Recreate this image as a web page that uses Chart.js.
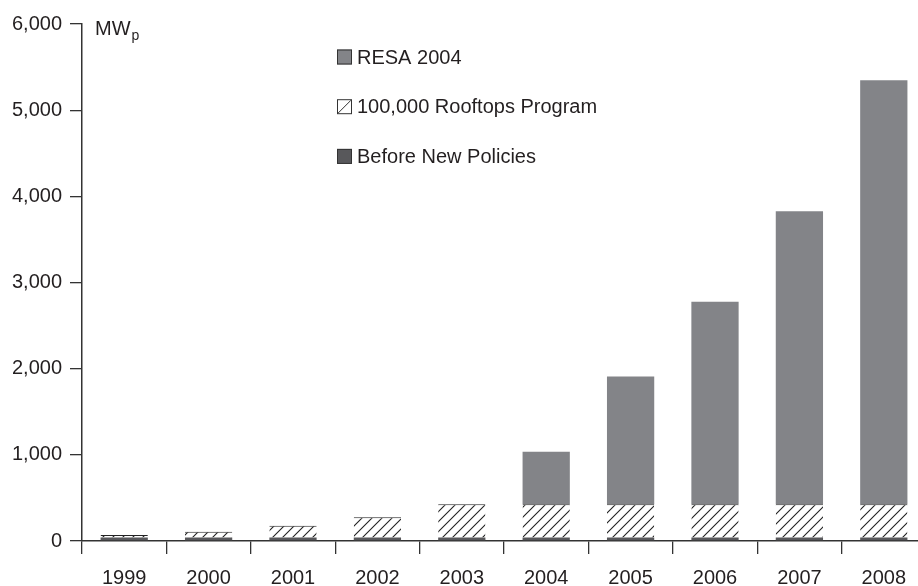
<!DOCTYPE html>
<html lang="en">
<head>
<meta charset="UTF-8">
<title>MWp</title>
<style>
  html, body { margin: 0; padding: 0; background: #fff; overflow: hidden; }
  #wrap { width: 926px; height: 586px; }
</style>
</head>
<body>
<div id="wrap">
  <canvas id="myChart" width="926" height="586"></canvas>
</div>

<script src="https://cdn.jsdelivr.net/npm/chart.js@4.4.1/dist/chart.umd.min.js"></script>
<script>
    // data (MWp)
    const years = ['1999', '2000', '2001', '2002', '2003', '2004', '2005', '2006', '2007', '2008'];
    const beforeNewPolicies = [40, 40, 40, 40, 40, 40, 40, 40, 40, 40];
    const rooftopsProgram = [30, 68, 138, 235, 386, 386, 386, 386, 386, 386];
    const resa2004 = [0, 0, 0, 0, 0, 610, 1484, 2350, 3402, 4922];
    const yTicks = [0, 1000, 2000, 3000, 4000, 5000, 6000];

    const FONT = '"Liberation Sans", Arial, Helvetica, sans-serif';
    const TEXT = '#231f20';

    // diagonal hatch for the rooftops program
    function hatch() {
        const c = document.createElement('canvas');
        c.width = 10; c.height = 10;
        const g = c.getContext('2d');
        g.fillStyle = '#fff';
        g.fillRect(0, 0, 10, 10);
        g.strokeStyle = '#222';
        g.lineWidth = 1.1;
        g.beginPath();
        g.moveTo(-1, 11); g.lineTo(11, -1);
        g.moveTo(-6, 6); g.lineTo(6, -6);
        g.moveTo(4, 16); g.lineTo(16, 4);
        g.stroke();
        return g.createPattern(c, 'repeat');
    }
    const hatchFill = hatch();

    // MW_p unit label and the legend block placed inside the plot
    const overlay = {
        id: 'overlay',
        afterDraw(chart) {
            const ctx = chart.ctx;
            ctx.save();
            ctx.fillStyle = TEXT;
            ctx.textBaseline = 'alphabetic';
            ctx.font = '20px ' + FONT;
            ctx.fillText('MW', 95, 35);
            const w = ctx.measureText('MW').width;
            ctx.font = '14px ' + FONT;
            ctx.fillText('p', 95 + w + 1, 40);

            const items = [2, 1, 0];
            items.forEach((di, i) => {
                const ds = chart.data.datasets[di];
                const y = 57 + i * 49.7;
                ctx.fillStyle = ds.legendFill;
                ctx.fillRect(337, y - 7.5, 15, 15);
                ctx.strokeStyle = '#333';
                ctx.lineWidth = 1;
                ctx.strokeRect(337.5, y - 7, 14, 14);
                if (ds.legendSlash) {
                    ctx.beginPath();
                    ctx.moveTo(338, y + 6.5);
                    ctx.lineTo(351, y - 6.5);
                    ctx.stroke();
                }
                ctx.fillStyle = TEXT;
                ctx.font = '20px ' + FONT;
                ctx.textBaseline = 'middle';
                ctx.fillText(ds.label, 357, y + 1);
            });
            ctx.restore();
        }
    };

    const ctx = document.getElementById('myChart').getContext('2d');

    const chart = new Chart(ctx, {
        type: 'bar',
        data: {
            labels: years,
            datasets: [{
                label: 'Before New Policies',
                data: beforeNewPolicies,
                backgroundColor: '#58585b',
                legendFill: '#58585b'
            }, {
                label: '100,000 Rooftops Program',
                data: rooftopsProgram,
                backgroundColor: hatchFill,
                borderColor: '#222',
                borderWidth: { top: 1, left: 0, right: 0, bottom: 0 },
                borderSkipped: 'bottom',
                legendFill: '#fff',
                legendSlash: true
            }, {
                label: 'RESA 2004',
                data: resa2004,
                backgroundColor: '#838488',
                legendFill: '#838488'
            }]
        },
        options: {
            responsive: false,
            animation: false,
            layout: { padding: { top: 24, right: 0, left: 0, bottom: 0 } },
            datasets: {
                bar: { barPercentage: 0.56, categoryPercentage: 1 }
            },
            plugins: {
                legend: { display: false },
                tooltip: { enabled: false }
            },
            scales: {
                x: {
                    stacked: true,
                    offset: true,
                    grid: { drawOnChartArea: false, drawTicks: true, tickLength: 13, offset: true, color: '#333', lineWidth: 1.3 },
                    border: { display: true, color: '#333', width: 1.5 },
                    ticks: { color: TEXT, font: { family: FONT, size: 20 }, padding: 12, maxRotation: 0 },
                    afterFit(s) { s.height = 45; }
                },
                y: {
                    stacked: true,
                    min: 0,
                    max: 6000,
                    afterBuildTicks(s) { s.ticks = yTicks.map(v => ({ value: v })); },
                    grid: { drawOnChartArea: false, drawTicks: true, tickLength: 12, color: '#333', lineWidth: 1.3 },
                    border: { display: true, color: '#333', width: 1.5 },
                    ticks: {
                        color: TEXT,
                        font: { family: FONT, size: 20 },
                        padding: 8,
                        callback: v => v.toLocaleString('en-US')
                    },
                    afterFit(s) { s.width = 82; }
                }
            }
        },
        plugins: [overlay]
    });
</script>
</body>
</html>
